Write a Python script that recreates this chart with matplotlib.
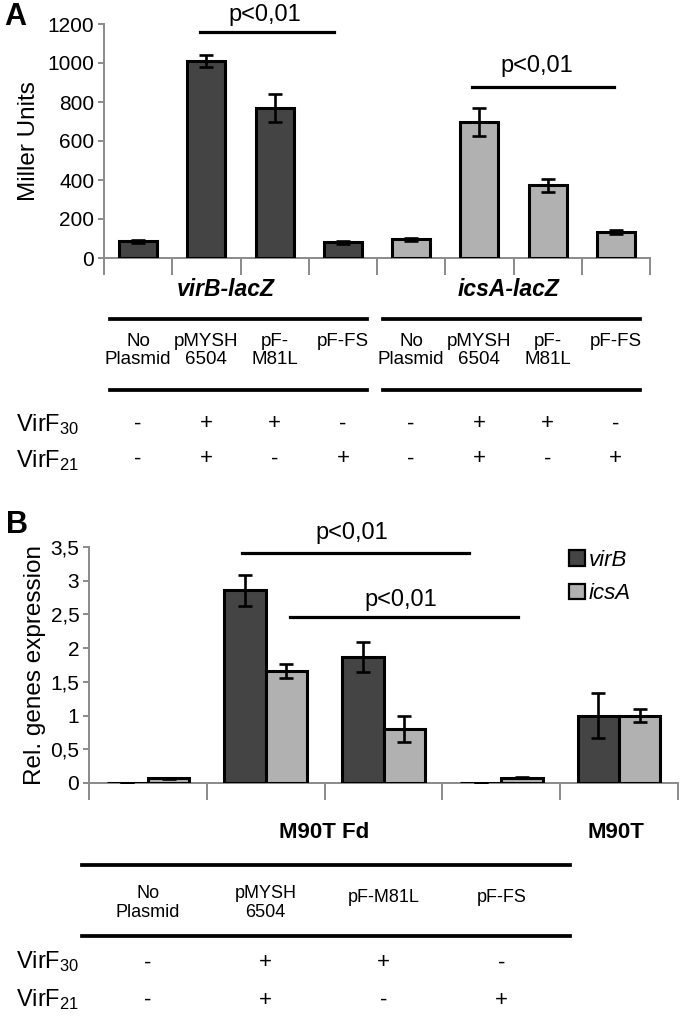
import matplotlib
matplotlib.use("Agg")
import matplotlib.pyplot as plt
import matplotlib.transforms as mtransforms
from matplotlib.lines import Line2D
from matplotlib.patches import Patch
import numpy as np

plt.rcParams['font.family'] = ['Liberation Sans', 'DejaVu Sans']
plt.rcParams['mathtext.fontset'] = 'custom'
plt.rcParams['mathtext.rm'] = 'Liberation Sans'
plt.rcParams['mathtext.it'] = 'Liberation Sans:italic'

# ---------------- data ----------------
A_labels = ['No\nPlasmid', 'pMYSH\n6504', 'pF-\nM81L', 'pF-FS']
A_groups = ['virB-lacZ', 'icsA-lacZ']
A_virB = [85, 1010, 768, 80]
A_virB_err = [8, 30, 73, 6]
A_icsA = [97, 698, 372, 133]
A_icsA_err = [8, 70, 33, 10]
A_yticks = [0, 200, 400, 600, 800, 1000, 1200]
virF30 = ['-', '+', '+', '-']
virF21 = ['-', '+', '-', '+']

B_labels = ['No\nPlasmid', 'pMYSH\n6504', 'pF-M81L', 'pF-FS']
B_groups = ['M90T Fd', 'M90T']
B_virB = [0.005, 2.86, 1.87, 0.005, 1.0]
B_virB_err = [0.0, 0.23, 0.22, 0.0, 0.33]
B_icsA = [0.07, 1.66, 0.80, 0.08, 1.0]
B_icsA_err = [0.005, 0.11, 0.19, 0.005, 0.1]
B_yticks = [0, 0.5, 1, 1.5, 2, 2.5, 3, 3.5]
B_yticklabels = ['0', '0,5', '1', '1,5', '2', '2,5', '3', '3,5']
series_names = ['virB', 'icsA']

DARK = '#444444'
LIGHT = '#b1b1b1'
GRAY = '#8a8a8a'

W, H = 680, 1016
fig = plt.figure(figsize=(W / 100, H / 100), dpi=100)


def fy(py):
    return 1 - py / H


def fx(px):
    return px / W


ERRKW = dict(ecolor='black', elinewidth=1.9, capsize=5, capthick=1.9)

# ---------------- Panel A ----------------
axA = fig.add_axes([fx(104), fy(258), fx(650) - fx(104), (258 - 24) / H])
nA = len(A_virB) + len(A_icsA)
xA = np.arange(nA)
valsA = A_virB + A_icsA
errsA = A_virB_err + A_icsA_err
colsA = [DARK] * len(A_virB) + [LIGHT] * len(A_icsA)
axA.bar(xA, valsA, width=0.56, color=colsA, edgecolor='black', linewidth=2.2,
        yerr=errsA, error_kw=ERRKW, zorder=3)
axA.set_xlim(-0.5, nA - 0.5)
axA.set_ylim(0, 1200)
axA.set_yticks(A_yticks)
axA.set_ylabel('Miller Units', fontsize=17.5, labelpad=5)

# ---------------- Panel B ----------------
axB = fig.add_axes([fx(89), fy(783), fx(678) - fx(89), (783 - 547) / H])
nB = len(B_virB)
xB = np.arange(nB)
bw = 0.35
axB.bar(xB - bw / 2, B_virB, width=bw, color=DARK, edgecolor='black', linewidth=2.2,
        yerr=B_virB_err, error_kw=ERRKW, zorder=3, label=series_names[0])
axB.bar(xB + bw / 2, B_icsA, width=bw, color=LIGHT, edgecolor='black', linewidth=2.2,
        yerr=B_icsA_err, error_kw=ERRKW, zorder=3, label=series_names[1])
axB.set_xlim(-0.5, nB - 0.5)
axB.set_ylim(0, 3.5)
axB.set_yticks(B_yticks)
axB.set_yticklabels(B_yticklabels)
axB.set_ylabel('Rel. genes expression', fontsize=17.5, labelpad=3)

for ax, n in ((axA, nA), (axB, nB)):
    for s in ('top', 'right'):
        ax.spines[s].set_visible(False)
    for s in ('left', 'bottom'):
        ax.spines[s].set_color(GRAY)
        ax.spines[s].set_linewidth(1.4)
    ax.set_xticks([])
    ax.set_xticks(np.arange(n + 1) - 0.5, minor=True)
    ax.tick_params(axis='x', which='minor', length=12, width=1.4, color=GRAY, direction='out')
    ax.tick_params(axis='y', length=4, width=1.4, color=GRAY, direction='out',
                   labelsize=15, pad=3)


def sig(ax, x0, x1, y, tx, ty):
    ax.add_line(Line2D([x0, x1], [y, y], color='black', lw=2.3, clip_on=False))
    ax.text(tx, ty, 'p<0,01', ha='center', va='center', fontsize=17, clip_on=False)


sig(axA, 0.9, 2.87, 1159, 1.86, 1246)
sig(axA, 4.89, 6.97, 877, 5.84, 985)
sig(axB, 0.8, 2.73, 3.41, 1.73, 3.71)
sig(axB, 1.21, 3.14, 2.46, 2.15, 2.72)

# legend
handles = [Patch(facecolor=DARK, edgecolor='black', linewidth=1.6),
           Patch(facecolor=LIGHT, edgecolor='black', linewidth=1.6)]
leg = fig.legend(handles, series_names, loc='upper left', bbox_to_anchor=(fx(569), fy(550)),
                 frameon=False, fontsize=16, handlelength=0.7, handleheight=0.7,
                 handletextpad=0.2, labelspacing=0.55, borderaxespad=0, borderpad=0)
for t in leg.get_texts():
    t.set_fontstyle('italic')

# ---------------- tables ----------------
trA = mtransforms.blended_transform_factory(axA.transData, fig.transFigure)
trB = mtransforms.blended_transform_factory(axB.transData, fig.transFigure)

for gi, g in enumerate(A_groups):
    fig.text(1.29 + 4 * gi + (0.14 if gi else 0), fy(290), g, transform=trA, ha='center',
             va='center', fontsize=16.5, fontweight='bold', fontstyle='italic')
    for yline in (319, 390):
        fig.add_artist(Line2D([-0.41 + 4 * gi, 3.35 + 4 * gi], [fy(yline), fy(yline)],
                              transform=trA, color='black', lw=2.7))
    for i, lab in enumerate(A_labels):
        fig.text(4 * gi + i, fy(333), lab, transform=trA, ha='center', va='top',
                 fontsize=13.5, linespacing=1.05)
        fig.text(4 * gi + i, fy(424), virF30[i], transform=trA, ha='center', va='center',
                 fontsize=16)
        fig.text(4 * gi + i, fy(459), virF21[i], transform=trA, ha='center', va='center',
                 fontsize=16)

fig.text(fx(16), fy(425), r'VirF$_{30}$', ha='left', va='center', fontsize=17)
fig.text(fx(16), fy(461), r'VirF$_{21}$', ha='left', va='center', fontsize=17)

fig.text(1.5, fy(833), B_groups[0], transform=trB, ha='center', va='center',
         fontsize=16, fontweight='bold')
fig.text(3.97, fy(833), B_groups[1], transform=trB, ha='center', va='center',
         fontsize=16, fontweight='bold')
for yline in (865, 936):
    fig.add_artist(Line2D([-0.56, 3.58], [fy(yline), fy(yline)], transform=trB,
                          color='black', lw=2.7))
for i, lab in enumerate(B_labels):
    yc = 903 if '\n' in lab else 898
    fig.text(i, fy(yc), lab, transform=trB, ha='center', va='center', fontsize=13,
             linespacing=1.1)
    fig.text(i, fy(963), virF30[i], transform=trB, ha='center', va='center', fontsize=16)
    fig.text(i, fy(1000), virF21[i], transform=trB, ha='center', va='center', fontsize=16)

fig.text(fx(16), fy(962), r'VirF$_{30}$', ha='left', va='center', fontsize=17)
fig.text(fx(16), fy(1000), r'VirF$_{21}$', ha='left', va='center', fontsize=17)

fig.text(fx(4), fy(25), 'A', fontsize=22, fontweight='bold', ha='left', va='baseline')
fig.text(fx(6), fy(533), 'B', fontsize=22, fontweight='bold', ha='left', va='baseline')

fig.savefig('out.png', dpi=100)
